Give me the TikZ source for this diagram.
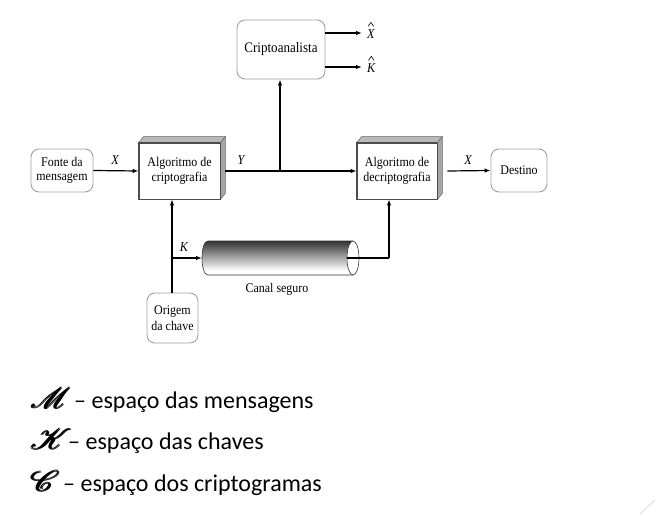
\documentclass[tikz,border=0pt]{standalone}
\usepackage{amsmath}
\usepackage{mathrsfs}
\usepackage{fontspec}
\setmainfont[FakeStretch=0.9]{Liberation Serif}
\newfontfamily\slidefont{Carlito}
\usetikzlibrary{arrows.meta,calc}
\pgfdeclareverticalshading{tubeshade}{100bp}{color(0bp)=(gray!55); color(12bp)=(white); color(32bp)=(white); color(75bp)=(black!80); color(100bp)=(black)}
\newcommand{\legsym}[2]{\scalebox{#2}[1.15]{$\pmb{\mathscr{#1}}$}}
\begin{document}
\begin{tikzpicture}[x=1pt,y=-1pt,
  txt/.style={font=\fontsize{13.3}{14.5}\selectfont, align=center},
  rbox/.style={txt, draw=gray!75, line width=0.9pt, rounded corners=8pt, inner sep=0pt},
  cube/.style={txt, draw=black!70, fill=white, line width=0.8pt, inner sep=0pt, minimum width=81pt, minimum height=56pt},
  conn/.style={line width=1.2pt, -{Latex[length=6pt,width=4.5pt]}},
  plain/.style={line width=1.2pt},
  hatmark/.style={line width=0.6pt, line join=miter},
  lab/.style={font=\fontsize{13.5}{14}\selectfont\itshape, inner sep=0pt},
  legend/.style={font=\slidefont\fontsize{24}{28}\selectfont, anchor=base west, inner sep=0pt}
]
\useasboundingbox (0,0) rectangle (655,514);

% nodes
\node[rbox, minimum width=62pt, minimum height=43pt, font=\fontsize{13.3}{13.5}\selectfont] (fonte) at (62,170.5) {Fonte da\\mensagem};
\node[cube] (enc) at (179.5,171) {Algoritmo de\\criptografia};
\node[rbox, minimum width=88pt, minimum height=59pt, font=\fontsize{14.5}{15}\selectfont] (ana) at (281,49.5) {Criptoanalista};
\node[cube, minimum width=80pt] (dec) at (397,171) {Algoritmo de\\decriptografia};
\node[rbox, minimum width=56pt, minimum height=43pt] (dest) at (519,170.5) {Destino};
\node[rbox, minimum width=51pt, minimum height=50pt, font=\fontsize{13.3}{15.5}\selectfont] (orig) at (172.5,318) {Origem\\da chave};

% 3D faces
\foreach \b in {enc,dec}{
  \fill[gray!55, draw=black!60, line width=0.5pt] (\b.north west) -- ++(5,-6) -- ($(\b.north east)+(5,-6)$) -- (\b.north east) -- cycle;
  \fill[gray!70, draw=black!60, line width=0.5pt] (\b.north east) -- ++(5,-6) -- ($(\b.south east)+(5,-6)$) -- (\b.south east) -- cycle;
  \draw[black!70, line width=0.8pt] (\b.south west) rectangle (\b.north east);
}

% labels on outputs (with hats)
\node[lab, anchor=west] (xhat) at (367,34) {X};
\node[lab, anchor=west] (khat) at (367,68) {K};
\draw[hatmark] ($(xhat.north)+(-2.8,-3)$) -- ++(2.8,-4) -- ++(2.8,4);
\draw[hatmark] ($(khat.north)+(-2.8,-3)$) -- ++(2.8,-4) -- ++(2.8,4);
\coordinate (xa) at (362,33);
\coordinate (ka) at (362,67);

% tube
\coordinate (tubeL) at (202,258);
\coordinate (tubeR) at (347,258);
\path[shading=tubeshade] (208,241) -- (353,241) -- (353,275) -- (208,275) .. controls (200,275) and (200,241) .. (208,241) -- cycle;
\draw[black!80, line width=0.6pt] (353,241) -- (208,241) .. controls (200,241) and (200,275) .. (208,275) -- (353,275);
\draw[black!80, line width=0.6pt, fill=white] (353,258) ellipse [x radius=6pt, y radius=17pt];
\node[txt] (canal) at (277,289) {Canal seguro};

% connectors
\draw[conn] (fonte.east) -- (enc.west);
\node[lab] (lx1) at (115,160) {X};
\draw[conn] ([xshift=5pt]enc.east) -- (dec.west);
\node[lab] (ly) at (241,160) {Y};
\coordinate (junc) at (280,170);
\draw[conn] (junc) -- (junc |- ana.south);
\draw[conn] ([xshift=10pt]dec.east) -- (dest.west);
\node[lab] (lx2) at (468,160) {X};
\draw[conn] (ana.east |- xa) -- (xa);
\draw[conn] (ana.east |- ka) -- (ka);
\draw[conn] (orig.north -| 172,0) -- (172,0 |- enc.south);
\coordinate (kj) at (172,258);
\draw[conn] (kj) -- (tubeL);
\node[lab] (lk) at (184,247) {K};
\coordinate (bend) at (389,258);
\draw[plain] (tubeR) -- (bend);
\draw[conn] (bend) -- (bend |- dec.south);

% legend
\node[legend] (sm) at (31,408) {\legsym{M}{1.3}};
\node[legend] (tm) at (74,408) {– espaço das mensagens};
\node[legend] (sk) at (31,449) {\legsym{K}{1.35}};
\node[legend] (tk) at (68,449) {– espaço das chaves};
\node[legend] (sc) at (31,491) {\legsym{C}{1.4}};
\node[legend] (tc) at (63,491) {– espaço dos criptogramas};

% slide decoration
\draw[gray!35, line width=0.6pt] (640,514) -- (655,500);
\end{tikzpicture}
\end{document}
